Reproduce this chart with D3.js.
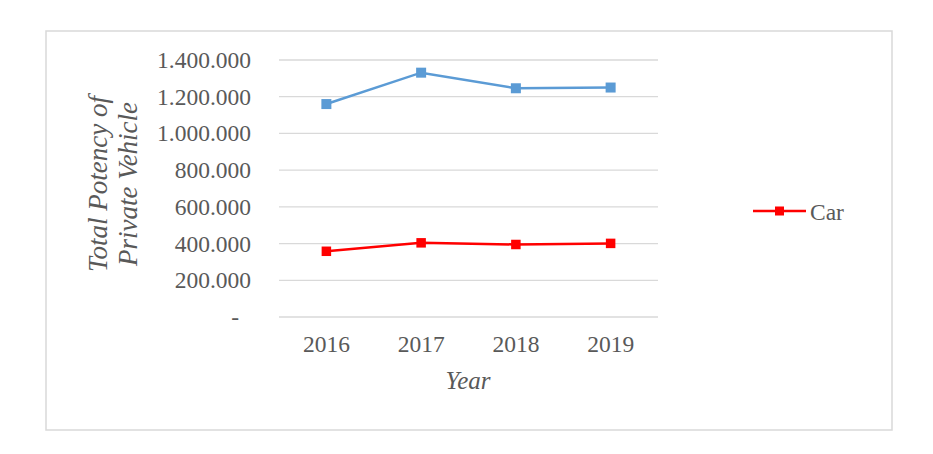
<!DOCTYPE html>
<html>
<head>
<meta charset="utf-8">
<script src="https://cdn.jsdelivr.net/npm/d3@7"></script>
<style>
  body { margin: 0; background: #fff; }
  text { font-family: "Liberation Serif", "Times New Roman", serif; fill: #595959; }
</style>
</head>
<body>
<div id="chart"></div>
<script>
// data
var years = ["2016", "2017", "2018", "2019"];
var blueValues = [1160000, 1331000, 1246000, 1250000];
var carValues = [358000, 404000, 395000, 401000];
var yTicks = [0, 200000, 400000, 600000, 800000, 1000000, 1200000, 1400000];

var W = 933, H = 454;
var plot = {left: 279, right: 658, top: 60, bottom: 317};

var svg = d3.select("#chart").append("svg")
  .attr("width", W).attr("height", H);

// outer frame
svg.append("rect")
  .attr("x", 46).attr("y", 31)
  .attr("width", 846).attr("height", 399)
  .attr("fill", "none")
  .attr("stroke", "#d9d9d9")
  .attr("stroke-width", 1.5);

var x = d3.scaleBand().domain(years).range([plot.left, plot.right]);
var y = d3.scaleLinear().domain([0, 1400000]).range([plot.bottom, plot.top]);
function cx(d) { return x(d) + x.bandwidth() / 2; }

// number format with dots as thousands separators
var loc = d3.formatLocale({decimal: ",", thousands: ".", grouping: [3], currency: ["", ""]});
var fmt = loc.format(",.0f");

// gridlines
svg.append("g").selectAll("line")
  .data(yTicks).join("line")
  .attr("x1", plot.left).attr("x2", plot.right)
  .attr("y1", function(d) { return y(d); })
  .attr("y2", function(d) { return y(d); })
  .attr("stroke", "#d9d9d9")
  .attr("stroke-width", 1.3);

// y axis labels
var yAxis = svg.append("g")
  .attr("transform", "translate(" + (plot.left - 28) + ",0)")
  .call(d3.axisLeft(y).tickValues(yTicks).tickSize(0)
    .tickFormat(function(d) { return d === 0 ? "-" : fmt(d); }));
yAxis.select(".domain").remove();
yAxis.selectAll("text")
  .attr("x", function(d) { return d === 0 ? -12 : 0; })
  .attr("dy", "0.32em")
  .style("font-size", "23.5px")
  .style("font-family", "'Liberation Serif', serif")
  .attr("fill", "#595959");

// x axis labels
var xAxis = svg.append("g")
  .attr("transform", "translate(0," + plot.bottom + ")")
  .call(d3.axisBottom(x).tickSize(0));
xAxis.select(".domain").remove();
xAxis.selectAll("text")
  .attr("y", 35)
  .attr("dy", 0)
  .style("font-size", "23.5px")
  .style("font-family", "'Liberation Serif', serif")
  .attr("fill", "#595959");

// axis titles
svg.append("text")
  .attr("x", 468).attr("y", 389)
  .attr("text-anchor", "middle")
  .style("font-size", "25px")
  .style("font-style", "italic")
  .text("Year");

var yt = svg.append("text")
  .attr("transform", "translate(107,184) rotate(-90)")
  .attr("text-anchor", "middle")
  .style("font-size", "27px")
  .style("font-style", "italic");
yt.append("tspan").attr("x", 0).attr("y", 0).text("Total Potency of");
yt.append("tspan").attr("x", 0).attr("y", 30).text("Private Vehicle");

// series
function drawSeries(values, color, size) {
  var data = years.map(function(d, i) { return {year: d, value: values[i]}; });
  svg.append("path")
    .datum(data)
    .attr("fill", "none")
    .attr("stroke", color)
    .attr("stroke-width", 2.5)
    .attr("d", d3.line()
      .x(function(d) { return cx(d.year); })
      .y(function(d) { return y(d.value); }));
  svg.append("g").selectAll("rect")
    .data(data).join("rect")
    .attr("x", function(d) { return cx(d.year) - size / 2; })
    .attr("y", function(d) { return y(d.value) - size / 2; })
    .attr("width", size).attr("height", size)
    .attr("fill", color);
}
drawSeries(blueValues, "#5b9bd5", 10);
drawSeries(carValues, "#ff0000", 9.5);

// legend (only Car shown)
var legend = svg.append("g").attr("transform", "translate(753,211)");
legend.append("line")
  .attr("x1", 0).attr("x2", 53)
  .attr("stroke", "#ff0000").attr("stroke-width", 2.5);
legend.append("rect")
  .attr("x", 22).attr("y", -4.5)
  .attr("width", 9).attr("height", 9)
  .attr("fill", "#ff0000");
legend.append("text")
  .attr("x", 57).attr("y", 8.5)
  .style("font-size", "23.5px")
  .text("Car");
</script>
</body>
</html>
